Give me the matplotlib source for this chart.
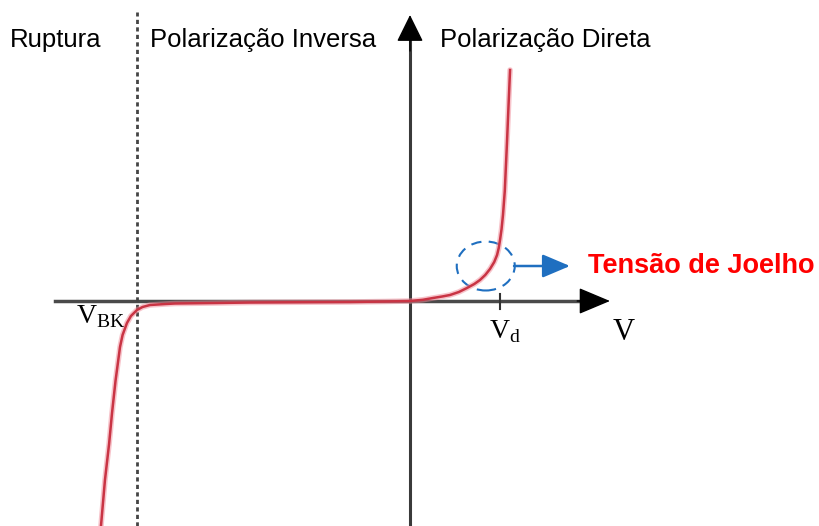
import matplotlib.pyplot as plt
from matplotlib.patches import Ellipse

# curva I x V do diodo (V em volts, I em mA)
v_curve = [-2.403, -2.372, -2.340, -2.317, -2.290, -2.255, -2.235, -2.201, -2.170, -2.123, -2.080,
           -2.022, -1.900, -1.827, -1.500, -1.244, -0.800, -0.467, -0.200, 0.0,
           0.100, 0.179, 0.250, 0.311, 0.380, 0.443, 0.500, 0.544, 0.585, 0.622, 0.655, 0.677,
           0.690, 0.700, 0.712, 0.723, 0.737, 0.754, 0.766, 0.778]
i_curve = [-22.5, -17.9, -14.3, -11.2, -8.0, -4.6, -3.4, -2.2, -1.5, -0.9, -0.6,
           -0.4, -0.3, -0.25, -0.2, -0.15, -0.12, -0.1, -0.05, 0.0,
           0.12, 0.3, 0.45, 0.6, 0.9, 1.3, 1.7, 2.1, 2.6, 3.2, 3.9, 4.6,
           5.3, 6.1, 7.2, 8.6, 11.0, 15.8, 19.5, 23.1]

v_bk = -2.123
v_d = 0.70
joelho = (0.589, 3.5)

regioes = ["Ruptura", "Polarização Inversa", "Polarização Direta"]
regioes_x = [-3.110, -2.022, 0.233]

plt.rcParams['mathtext.fontset'] = 'custom'
plt.rcParams['mathtext.rm'] = 'Liberation Serif'

fig = plt.figure(figsize=(8.19, 5.26), dpi=100)
ax = fig.add_axes([0, 0, 1, 1])
ax.set_xlim(-410 / 128.6, 409 / 128.6)
ax.set_ylim(-22.5, 30.1)
ax.axis('off')

# eixos com setas
ax.plot([-2.76, 1.40], [0, 0], color='#4a4a4a', lw=2.5)
ax.plot([0, 0], [-22.5, 26.5], color='#3a3a3a', lw=2.2)
ax.annotate('', xy=(1.555, 0), xytext=(1.30, 0),
            arrowprops=dict(arrowstyle='-|>,head_length=1.0,head_width=0.42', mutation_scale=20,
                            lw=1, color='black', shrinkA=0, shrinkB=0))
ax.annotate('', xy=(0, 28.6), xytext=(0, 25.0),
            arrowprops=dict(arrowstyle='-|>,head_length=0.85,head_width=0.42', mutation_scale=20,
                            lw=1, color='black', shrinkA=0, shrinkB=0))

# linha de ruptura
ax.plot([v_bk, v_bk], [-22.5, 28.9], color='#444444', lw=2, linestyle=(0, (1.5, 1.2)))

# marca de Vd
ax.plot([v_d, v_d], [-0.75, 0.75], color='#333333', lw=1.5)

# curva
ax.plot(v_curve, i_curve, color='#f08a98', lw=4, alpha=0.5, solid_capstyle='round')
ax.plot(v_curve, i_curve, color='#c93444', lw=1.8)

# tensao de joelho
ax.add_patch(Ellipse(joelho, 58 / 128.6, 4.9, fill=False, ec='#1f6fc0', lw=1.5,
                     linestyle=(0, (5, 3.5))))
ax.annotate('', xy=(1.244, joelho[1]), xytext=(0.809, joelho[1]),
            arrowprops=dict(arrowstyle='-|>,head_length=0.85,head_width=0.36', mutation_scale=20,
                            lw=1.8, color='#1f6fc0', shrinkA=0, shrinkB=0))
ax.text(1.384, joelho[1], "Tensão de Joelho", color='#ff0000', fontsize=19.5, fontweight='bold',
        family='Liberation Sans', ha='left', va='center')

for nome, x in zip(regioes, regioes_x):
    ax.text(x, 26.1, nome, fontsize=18.5, family='Liberation Sans', ha='left', va='center')

ax.text(-2.60, -2.2, r'$\mathrm{V}_{\mathrm{BK}}$', fontsize=20, ha='left', va='baseline')
ax.text(0.618, -3.7, r'$\mathrm{V}_{\mathrm{d}}$', fontsize=20, ha='left', va='baseline')
ax.text(1.57, -3.9, r'$\mathrm{V}$', fontsize=22, ha='left', va='baseline')

fig.savefig('out.png', dpi=100)
